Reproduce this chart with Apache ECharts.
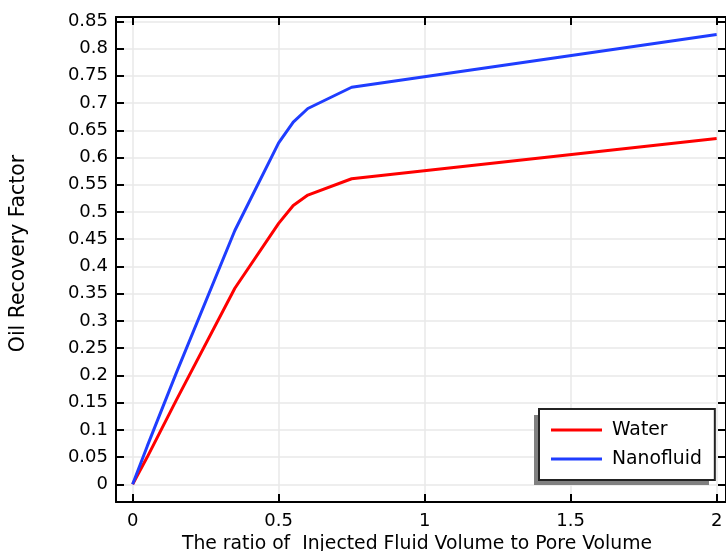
<!DOCTYPE html>
<html>
<head>
<meta charset="utf-8">
<script src="https://cdn.jsdelivr.net/npm/echarts@6/dist/echarts.min.js"></script>
<style>
  html, body { margin: 0; padding: 0; background: #fff; overflow: hidden; }
  #chart { width: 726px; height: 551px; }
</style>
</head>
<body>
<div id="chart"></div>
<script>
// Injected pore volumes and recovery factors for both flooding fluids
const poreVolumes = [0, 0.05, 0.15, 0.35, 0.5, 0.55, 0.6, 0.75, 2];
const waterRecovery = [0, 0.05, 0.155, 0.36, 0.479, 0.512, 0.531, 0.561, 0.635];
const nanofluidRecovery = [0, 0.07, 0.205, 0.466, 0.627, 0.665, 0.69, 0.729, 0.826];

const xTicks = [0, 0.5, 1, 1.5, 2];
const yTicks = [0, 0.05, 0.1, 0.15, 0.2, 0.25, 0.3, 0.35, 0.4, 0.45, 0.5, 0.55, 0.6, 0.65, 0.7, 0.75, 0.8, 0.85];

const seriesNames = ['Water', 'Nanofluid'];
const seriesColors = ['#ff0000', '#1f3dff'];

const FONT = 'DejaVu Sans';
const X_MIN = -0.057, X_MAX = 2.032;
const Y_MIN = -0.0325, Y_MAX = 0.858;

function pairs(xs, ys) { return xs.map((x, i) => [x, ys[i]]); }

function makeAxis(kind, position, withLabels) {
  const isX = kind === 'x';
  const ticks = isX ? xTicks : yTicks;
  return {
    type: 'value',
    position: position,
    min: isX ? X_MIN : Y_MIN,
    max: isX ? X_MAX : Y_MAX,
    axisLine: { show: true, onZero: false, lineStyle: { color: '#000', width: 2 } },
    axisTick: { show: true, inside: true, length: 8, customValues: ticks,
                lineStyle: { color: '#000', width: 2 } },
    axisLabel: withLabels
      ? { show: true, customValues: ticks, fontFamily: FONT, fontSize: 18, color: '#000',
          margin: isX ? 10 : 8, showMinLabel: true, showMaxLabel: true }
      : { show: false },
    splitLine: withLabels
      ? { show: true, lineStyle: { color: '#e8e8e8', width: 1.5 } }
      : { show: false },
  };
}

const xMain = Object.assign(makeAxis('x', 'bottom', true), {
  name: 'The ratio of  Injected Fluid Volume to Pore Volume',
  nameLocation: 'middle',
  nameGap: 28,
  nameTextStyle: { fontFamily: FONT, fontSize: 18.8, color: '#000', padding: [0, 8, 0, 0] },
});
const yMain = Object.assign(makeAxis('y', 'left', true), {
  name: 'Oil Recovery Factor',
  nameLocation: 'middle',
  nameRotate: 90,
  nameGap: 87,
  nameTextStyle: { fontFamily: FONT, fontSize: 20.4, color: '#000', padding: [0, 0, 0, 12] },
});

// Legend frame geometry (the drop shadow sits behind the legend box)
const LEGEND_LEFT = 539, LEGEND_TOP = 409;

const option = {
  backgroundColor: '#ffffff',
  animation: false,
  grid: { left: 116, top: 17, right: 0, bottom: 49, containLabel: false, outerBoundsMode: 'none' },
  xAxis: [xMain, makeAxis('x', 'top', false)],
  yAxis: [yMain, makeAxis('y', 'right', false)],
  graphic: [{
    type: 'rect',
    z: 3,
    silent: true,
    shape: { x: LEGEND_LEFT - 5, y: LEGEND_TOP + 6, width: 175, height: 70 },
    style: { fill: '#808080' },
  }],
  legend: {
    orient: 'vertical',
    left: LEGEND_LEFT,
    top: LEGEND_TOP,
    padding: [11, 13, 11, 12],
    itemGap: 9,
    itemWidth: 51,
    itemHeight: 3,
    icon: 'rect',
    backgroundColor: '#ffffff',
    borderColor: '#222',
    borderWidth: 2,
    borderRadius: 0,
    textStyle: { fontFamily: FONT, fontSize: 18.8, color: '#000', lineHeight: 20, padding: [0, 0, 0, 5] },
    data: seriesNames,
  },
  series: [
    {
      name: seriesNames[0], type: 'line', xAxisIndex: 0, yAxisIndex: 0,
      data: pairs(poreVolumes, waterRecovery),
      showSymbol: false, symbol: 'none',
      lineStyle: { color: seriesColors[0], width: 3 }, itemStyle: { color: seriesColors[0] },
    },
    {
      name: seriesNames[1], type: 'line', xAxisIndex: 0, yAxisIndex: 0,
      data: pairs(poreVolumes, nanofluidRecovery),
      showSymbol: false, symbol: 'none',
      lineStyle: { color: seriesColors[1], width: 3 }, itemStyle: { color: seriesColors[1] },
    },
  ],
};

const chart = echarts.init(document.getElementById('chart'), null, { renderer: 'canvas' });
chart.setOption(option);
</script>
</body>
</html>
